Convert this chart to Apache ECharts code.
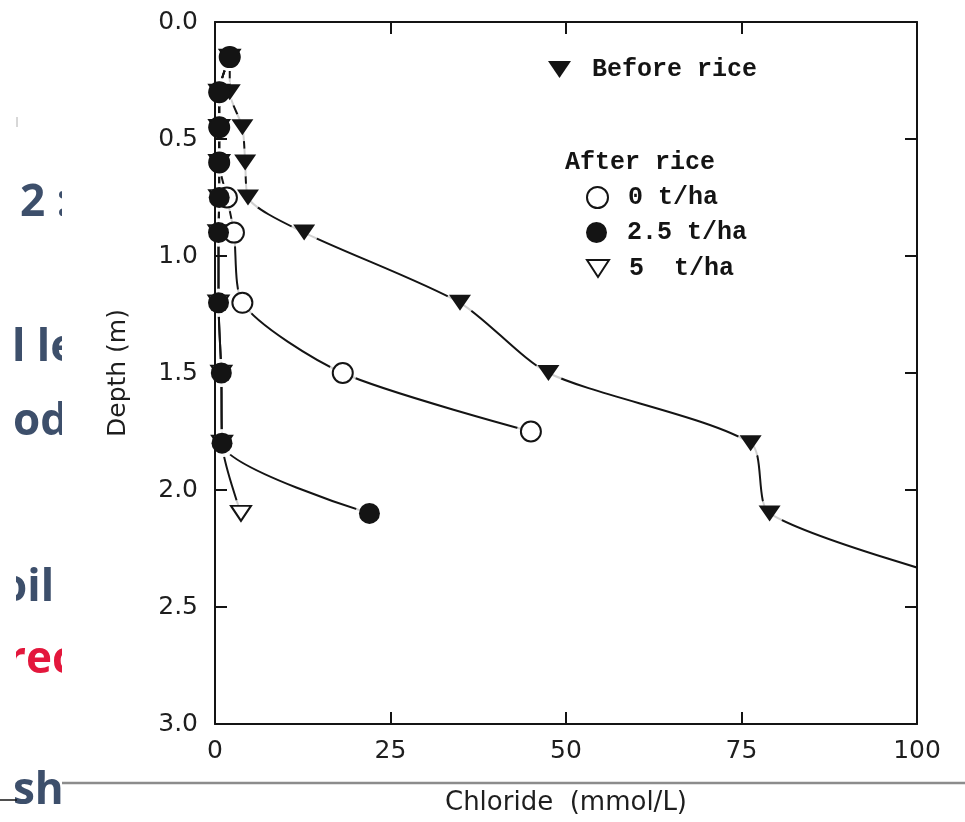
<!DOCTYPE html>
<html>
<head>
<meta charset="utf-8">
<script src="https://cdn.jsdelivr.net/npm/echarts@6/dist/echarts.min.js"></script>
<style>
  html, body { margin: 0; padding: 0; background: #fff; }
  #chart { width: 965px; height: 822px; }
</style>
</head>
<body>
<div id="chart"></div>
<script>
// Soil chloride profiles: depth (m) against chloride concentration (mmol/L)
const xTicks = [0, 25, 50, 75, 100];
const yTicks = [0, 0.5, 1, 1.5, 2, 2.5, 3];

// Before rice (last sample lies beyond the 100 mmol/L frame and is clipped)
const beforeRiceDepth = [0.15, 0.3, 0.45, 0.6, 0.75, 0.9, 1.2, 1.5, 1.8, 2.1, 2.4];
const beforeRice      = [2.1, 2.1, 3.9, 4.3, 4.7, 12.7, 34.9, 47.5, 76.3, 79.0, 108];

// After rice, 0 t/ha
const noStrawDepth = [0.15, 0.3, 0.45, 0.6, 0.75, 0.9, 1.2, 1.5, 1.75];
const noStraw      = [2.1, 0.6, 0.6, 0.6, 1.7, 2.7, 3.9, 18.2, 45.0];

// After rice, 2.5 t/ha and 5 t/ha
const strawDepth = [0.15, 0.3, 0.45, 0.6, 0.75, 0.9, 1.2, 1.5, 1.8, 2.1];
const straw25    = [2.1, 0.6, 0.6, 0.6, 0.6, 0.5, 0.5, 0.9, 1.0, 22.0];
const straw5     = [2.1, 0.6, 0.6, 0.6, 0.6, 0.5, 0.5, 0.9, 1.0, 3.7];

const INK = '#141414';
const SANS = "'DejaVu Sans'";
const MONO = "'Liberation Mono'";
const DOWN_TRIANGLE = 'path://M0,0L22,0L11,16Z';

function pairs(xs, ds) { return xs.map((v, i) => [v, ds[i]]); }

// drawn bottom-to-top
const profiles = [
  { name: '5  t/ha',     data: pairs(straw5, strawDepth),           symbol: 'triangle', rotate: 180, size: [20, 15], fill: '#fff', z: 10 },
  { name: '0 t/ha',      data: pairs(noStraw, noStrawDepth),        symbol: 'circle',   rotate: 0,   size: 20,       fill: '#fff', z: 11 },
  { name: 'Before rice', data: pairs(beforeRice, beforeRiceDepth),  symbol: 'triangle', rotate: 180, size: [22, 16], fill: INK,    z: 12 },
  { name: '2.5 t/ha',    data: pairs(straw25, strawDepth),          symbol: 'circle',   rotate: 0,   size: 21,       fill: INK,    z: 13 }
];

const series = [];
profiles.forEach(p => {
  series.push({
    type: 'line', name: p.name + ' profile', data: p.data,
    showSymbol: false, symbol: 'none', smooth: 0.25,
    lineStyle: { color: INK, width: 2 }, z: 3, silent: true
  });
  // white knock-out so the curve breaks around each sample
  series.push({
    type: 'scatter', name: p.name + ' gap', data: p.data,
    symbol: 'circle', symbolSize: 28, itemStyle: { color: '#fff' }, z: 5, silent: true
  });
});
profiles.forEach(p => {
  series.push({
    type: 'scatter', name: p.name, data: p.data,
    symbol: p.symbol, symbolRotate: p.rotate, symbolSize: p.size,
    itemStyle: { color: p.fill, borderColor: INK, borderWidth: p.fill === '#fff' ? 2 : 0, opacity: 1 },
    z: p.z, silent: true
  });
});

function legendAt(name, icon, left, top, pad, w, h) {
  return {
    data: [{ name: name, icon: icon }], left: left, top: top,
    orient: 'horizontal', itemWidth: w, itemHeight: h, symbolKeepAspect: false,
    padding: 0, selectedMode: false,
    textStyle: { fontFamily: MONO, fontWeight: 'bold', fontSize: 25, color: INK, padding: [0, 0, 0, pad] }
  };
}

const commonX = { type: 'value', min: 0, max: 100, interval: 25, z: 7 };
const commonY = { type: 'value', min: 0, max: 3, interval: 0.5, inverse: true, z: 7 };
const axisLine = { show: true, onZero: false, lineStyle: { color: INK, width: 2 } };
const axisTick = { show: true, inside: true, length: 12, lineStyle: { color: INK, width: 2 } };

const slideFont = "bold 44px 'Open Sans'";
const slideInk = '#3d4f6b';
function slideText(text, x, y, fill) {
  return { type: 'text', x: x, y: y, z: 40, silent: true,
    style: { text: text, font: slideFont, fill: fill || slideInk,
             align: 'left', verticalAlign: 'middle', textAlign: 'left', textVerticalAlign: 'middle' } };
}

const option = {
  backgroundColor: '#fff',
  animation: false,
  grid: { left: 215, right: 48, top: 22, bottom: 98 },
  xAxis: [
    Object.assign({}, commonX, {
      position: 'bottom', axisLine: axisLine, axisTick: axisTick, splitLine: { show: false },
      axisLabel: { fontFamily: SANS, fontSize: 25, color: '#1e1e1e', margin: 15,
                   formatter: v => xTicks.includes(v) ? String(v) : '' },
      name: 'Chloride  (mmol/L)', nameLocation: 'middle', nameGap: 66,
      nameTextStyle: { fontFamily: SANS, fontSize: 26, color: '#1e1e1e' }
    }),
    Object.assign({}, commonX, {
      position: 'top', axisLine: axisLine, axisTick: axisTick, splitLine: { show: false },
      axisLabel: { show: false }
    })
  ],
  yAxis: [
    Object.assign({}, commonY, {
      position: 'left', axisLine: axisLine, axisTick: axisTick, splitLine: { show: false },
      axisLabel: { fontFamily: SANS, fontSize: 25, color: '#1e1e1e', margin: 17,
                   formatter: v => yTicks.includes(v) ? v.toFixed(1) : '' },
      name: 'Depth (m)', nameLocation: 'middle', nameGap: 84, nameRotate: 90,
      nameTextStyle: { fontFamily: SANS, fontSize: 25, color: '#1e1e1e' }
    }),
    Object.assign({}, commonY, {
      position: 'right', axisLine: axisLine, axisTick: axisTick, splitLine: { show: false },
      axisLabel: { show: false }
    })
  ],
  legend: [
    legendAt('Before rice', DOWN_TRIANGLE, 548, 57, 16, 23, 17),
    legendAt('0 t/ha', 'circle', 586, 185, 15, 21, 21),
    legendAt('2.5 t/ha', 'circle', 586, 220, 15, 21, 21),
    legendAt('5  t/ha', DOWN_TRIANGLE, 586, 256, 15, 22, 17)
  ],
  graphic: {
    elements: [
      { type: 'text', x: 565, y: 163, z: 40, silent: true,
        style: { text: 'After rice', font: "bold 25px 'Liberation Mono'", fill: INK,
                 align: 'left', verticalAlign: 'middle', textAlign: 'left', textVerticalAlign: 'middle' } },
      slideText('2 :', 20, 203),
      slideText('l le', 12, 348),
      slideText('od', 13, 422),
      slideText('oil', 0, 588),
      slideText('rec', 6, 660, '#e3173c'),
      slideText('sha', 13, 791),
      { type: 'rect', z: 50, silent: true, shape: { x: 62, y: 0, width: 36, height: 822 }, style: { fill: '#fff' } },
      { type: 'rect', z: 50, silent: true, shape: { x: 0, y: 540, width: 16, height: 180 }, style: { fill: '#fff' } },
      { type: 'line', z: 60, silent: true, shape: { x1: 62, y1: 783, x2: 965, y2: 783 }, style: { stroke: '#8c8c8c', lineWidth: 2.5 } },
      { type: 'line', z: 60, silent: true, shape: { x1: 0, y1: 800, x2: 17, y2: 800 }, style: { stroke: INK, lineWidth: 1.5 } },
      { type: 'line', z: 60, silent: true, shape: { x1: 17, y1: 117, x2: 17, y2: 127 }, style: { stroke: '#b0b0b0', lineWidth: 1 } }
    ]
  },
  series: series
};

const chart = echarts.init(document.getElementById('chart'), null, { renderer: 'canvas' });
chart.setOption(option);
</script>
</body>
</html>
